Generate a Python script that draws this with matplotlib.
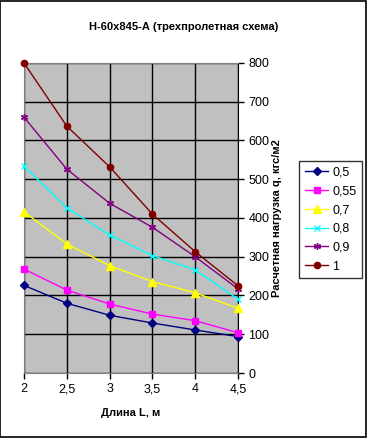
import matplotlib.pyplot as plt
from matplotlib.patches import Rectangle

plt.rcParams['font.family'] = ['Liberation Sans', 'DejaVu Sans']

L = [2, 2.5, 3, 3.5, 4, 4.5]
q_05 = [226, 180, 149, 129, 111, 94]
q_055 = [268, 214, 178, 152, 135, 104]
q_07 = [416, 333, 277, 236, 207, 167]
q_08 = [534, 426, 356, 303, 266, 191]
q_09 = [660, 526, 438, 376, 300, 217]
q_1 = [800, 637, 532, 410, 313, 225]
labels = ['0,5', '0,55', '0,7', '0,8', '0,9', '1']
x_ticks = ['2', '2,5', '3', '3,5', '4', '4,5']

series = [q_05, q_055, q_07, q_08, q_09, q_1]
styles = [('#000080', 'D', 4), ('#FF00FF', 's', 5), ('#FFFF00', '^', 6),
          ('#00FFFF', 'x', 4.5), ('#800080', (6, 2, 0), 5), ('#800000', 'o', 4.5)]

fig = plt.figure(figsize=(3.67, 4.38), dpi=100)
fig.patches.append(Rectangle((0.001, 0.003), 0.996, 0.995, transform=fig.transFigure,
                             fill=False, edgecolor='black', linewidth=1.2))

ax = fig.add_axes([0.0654, 0.1484, 0.5831, 0.7078])
ax.set_facecolor('#C0C0C0')

for vals, lab, (c, m, ms) in zip(series, labels, styles):
    ax.plot(L, vals, color=c, marker=m, markersize=ms, linewidth=1,
            markeredgecolor=c, label=lab, clip_on=False, zorder=3)

ax.set_xlim(2, 4.5)
ax.set_ylim(0, 800)
ax.set_xticks(L)
ax.set_xticklabels(x_ticks)
ax.set_yticks(range(0, 801, 100))
ax.yaxis.tick_right()
ax.yaxis.set_label_position('right')
ax.grid(True, color='black', linewidth=1)
ax.set_axisbelow(True)
for s in ax.spines.values():
    s.set_color('#808080')
ax.spines['right'].set_color('black')
ax.tick_params(axis='both', labelsize=9, length=4, width=1, color='black')

ax.set_xlabel('Длина L, м', fontsize=8, fontweight='bold', labelpad=9)
ax.set_ylabel('Расчетная нагрузка q, кгс/м2', fontsize=8, fontweight='bold', labelpad=2)
fig.suptitle('Н-60х845-А (трехпролетная схема)', x=0.5, y=0.95, fontsize=8, fontweight='bold')

leg = fig.legend(loc='upper left', bbox_to_anchor=(0.815, 0.633), fontsize=9,
                 frameon=True, fancybox=False, edgecolor='black', borderpad=0.45,
                 borderaxespad=0, handlelength=1.9, labelspacing=0.55, handletextpad=0.3)
leg.get_frame().set_linewidth(1)

fig.savefig('out.png', dpi=100)
